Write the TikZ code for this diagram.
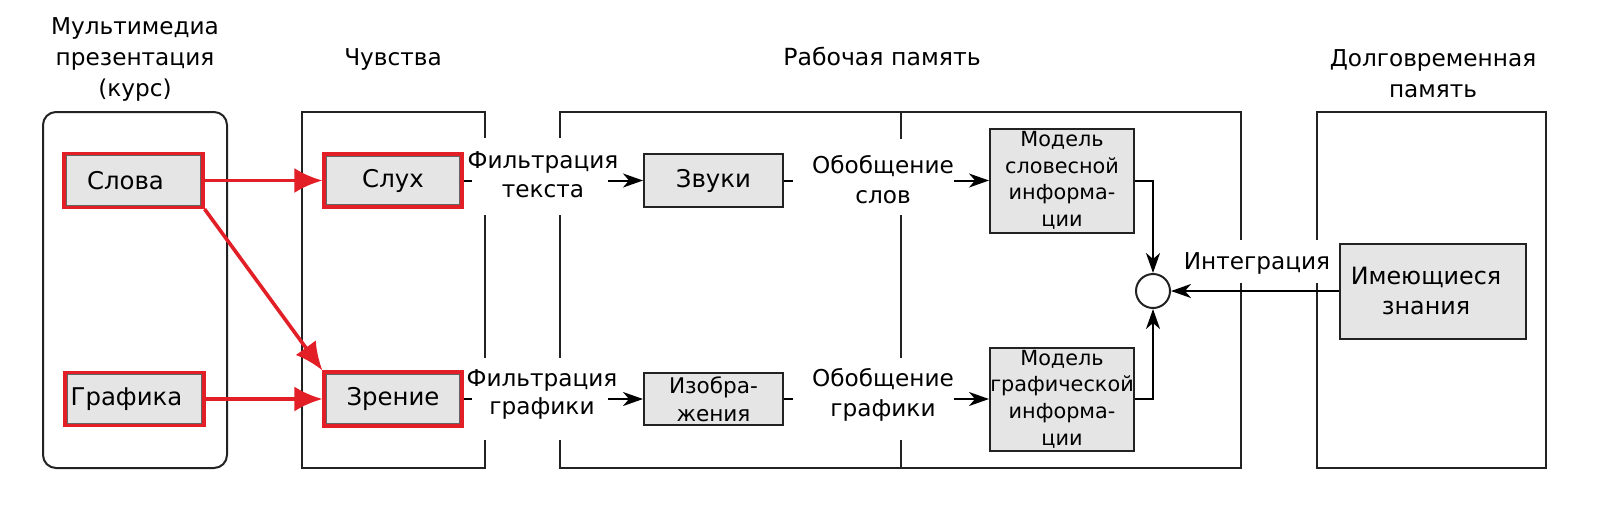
\documentclass[tikz,border=0pt]{standalone}
\usepackage{fontspec}
\setmainfont{DejaVu Sans}
\usetikzlibrary{arrows.meta,positioning}
\definecolor{boxgray}{RGB}{229,229,229}
\definecolor{mmred}{RGB}{226,30,38}
\definecolor{framegray}{RGB}{34,34,34}

\begin{document}
\begin{tikzpicture}[x=0.5pt,y=-0.5pt,
        txt/.style={inner sep=0pt,align=center,font=\fontsize{11.6pt}{15pt}\selectfont},
        block/.style={draw=framegray,line width=1pt,fill=boxgray,inner sep=0pt,align=center,font=\fontsize{12.2pt}{15pt}\selectfont},
        redblock/.style={block,draw=mmred,line width=1.6pt,
            path picture={\draw[framegray!70,line width=0.5pt]
                ([shift={(1.1pt,-1.1pt)}]path picture bounding box.north west) rectangle
                ([shift={(-1.1pt,1.1pt)}]path picture bounding box.south east);}},
        frame/.style={draw=framegray,line width=1pt},
        stub/.style={draw=black,line width=1pt},
        link/.style={stub,-{Stealth[length=10pt,width=7pt,inset=3pt]}},
        redlink/.style={draw=mmred,line width=1.8pt,-{Latex[length=14pt,width=12.5pt]}}]
        \useasboundingbox (0,0) rectangle (1600,526);
        % frames
        \draw[frame,rounded corners=6.5pt] (43,112) rectangle (227,468);
        \draw[frame] (485,138) -- (485,112) -- (302,112) -- (302,468) -- (485,468) -- (485,440);
        \draw[frame] (485,215) -- (485,358);
        \draw[frame] (560,138) -- (560,112) -- (1241,112) -- (1241,240);
        \draw[frame] (1241,283) -- (1241,468) -- (560,468) -- (560,440);
        \draw[frame] (560,215) -- (560,358);
        \draw[frame] (901,112) -- (901,139);
        \draw[frame] (901,215) -- (901,358);
        \draw[frame] (901,440) -- (901,468);
        \draw[frame] (1317,240) -- (1317,112) -- (1546,112) -- (1546,468) -- (1317,468) -- (1317,283);
        % headers
        \node[txt,font=\fontsize{11.6pt}{15.5pt}\selectfont] at (135,59) (hdrmedia) {Мультимедиа\\презентация\\(курс)};
        \node[txt,anchor=base] at (393,65) (hdrsenses) {Чувства};
        \node[txt,anchor=base,font=\fontsize{11.8pt}{15pt}\selectfont] at (882,65) (hdrworking) {Рабочая память};
        \node[txt,font=\fontsize{11.6pt}{15.5pt}\selectfont] at (1433,74) (hdrlongterm) {Долговременная\\память};
        % blocks
        \node[redblock,minimum width=69.5pt,minimum height=27pt] at (133.5,180.5) (slova) {\hspace*{-8pt}Слова};
        \node[redblock,minimum width=69.5pt,minimum height=26.5pt] at (134.5,399) (grafika) {\hspace*{-8pt}Графика};
        \node[redblock,minimum width=69pt,minimum height=26.5pt] at (393,180.5) (sluh) {Слух};
        \node[redblock,minimum width=69pt,minimum height=27pt] at (393,399) (zrenie) {Зрение};
        \node[block,minimum width=69.5pt,minimum height=26.5pt] at (713.5,180.5) (zvuki) {Звуки};
        \node[block,minimum width=69.5pt,minimum height=26pt,font=\fontsize{10.8pt}{14pt}\selectfont] at (713.5,399) (izobr) {Изобра-\\жения};
        \node[block,minimum width=72pt,minimum height=52pt,font=\fontsize{10.4pt}{13.3pt}\selectfont] at (1062,180.5) (modelslov) {Модель\\словесной\\информа-\\ции};
        \node[block,minimum width=72pt,minimum height=51.5pt,font=\fontsize{10.4pt}{13.3pt}\selectfont] at (1062,399) (modelgraf) {Модель\\графической\\информа-\\ции};
        \node[draw=framegray,line width=1pt,fill=white,circle,minimum size=17pt,inner sep=0pt] at (1153,291) (krug) {};
        \node[block,minimum width=93pt,minimum height=47.5pt,font=\fontsize{11.9pt}{15pt}\selectfont] at (1433,291) (znaniya) {\hspace*{-7pt}Имеющиеся\\\hspace*{-7pt}знания};
        % labels
        \node[txt,font=\fontsize{11.6pt}{14.5pt}\selectfont] at (543,175) (filtrtext) {Фильтрация\\текста};
        \node[txt,font=\fontsize{11.6pt}{14pt}\selectfont] at (542,394) (filtrgraf) {Фильтрация\\графики};
        \node[txt] at (883,180) (obobslov) {Обобщение\\слов};
        \node[txt] at (883,395) (obobgraf) {Обобщение\\графики};
        \node[txt] at (1257,263) (integr) {Интеграция};
        % stub ends
        \coordinate (sluhout) at (472,180.5);
        \coordinate (zvukiin) at (608,180.5);
        \coordinate (zvukiout) at (793,180.5);
        \coordinate (modelslovin) at (954,180.5);
        \coordinate (zrenieout) at (472,399);
        \coordinate (izobrin) at (608,399);
        \coordinate (izobrout) at (793,399);
        \coordinate (modelgrafin) at (954,399);
        % connectors
        \draw[redlink] (slova.east) -- (sluh.west);
        \draw[redlink] (slova.south east) -- (zrenie.north west);
        \draw[redlink] (grafika.east) -- (zrenie.west);
        \draw[stub] (sluh.east) -- (sluhout);
        \draw[link] (zvukiin) -- (zvuki.west);
        \draw[stub] (zvuki.east) -- (zvukiout);
        \draw[link] (modelslovin) -- (modelslov.west);
        \draw[stub] (zrenie.east) -- (zrenieout);
        \draw[link] (izobrin) -- (izobr.west);
        \draw[stub] (izobr.east) -- (izobrout);
        \draw[link] (modelgrafin) -- (modelgraf.west);
        \draw[link] (modelslov.east) -| (krug.north);
        \draw[link] (modelgraf.east) -| (krug.south);
        \draw[link] (znaniya.west) -- (krug.east);
\end{tikzpicture}
\end{document}
